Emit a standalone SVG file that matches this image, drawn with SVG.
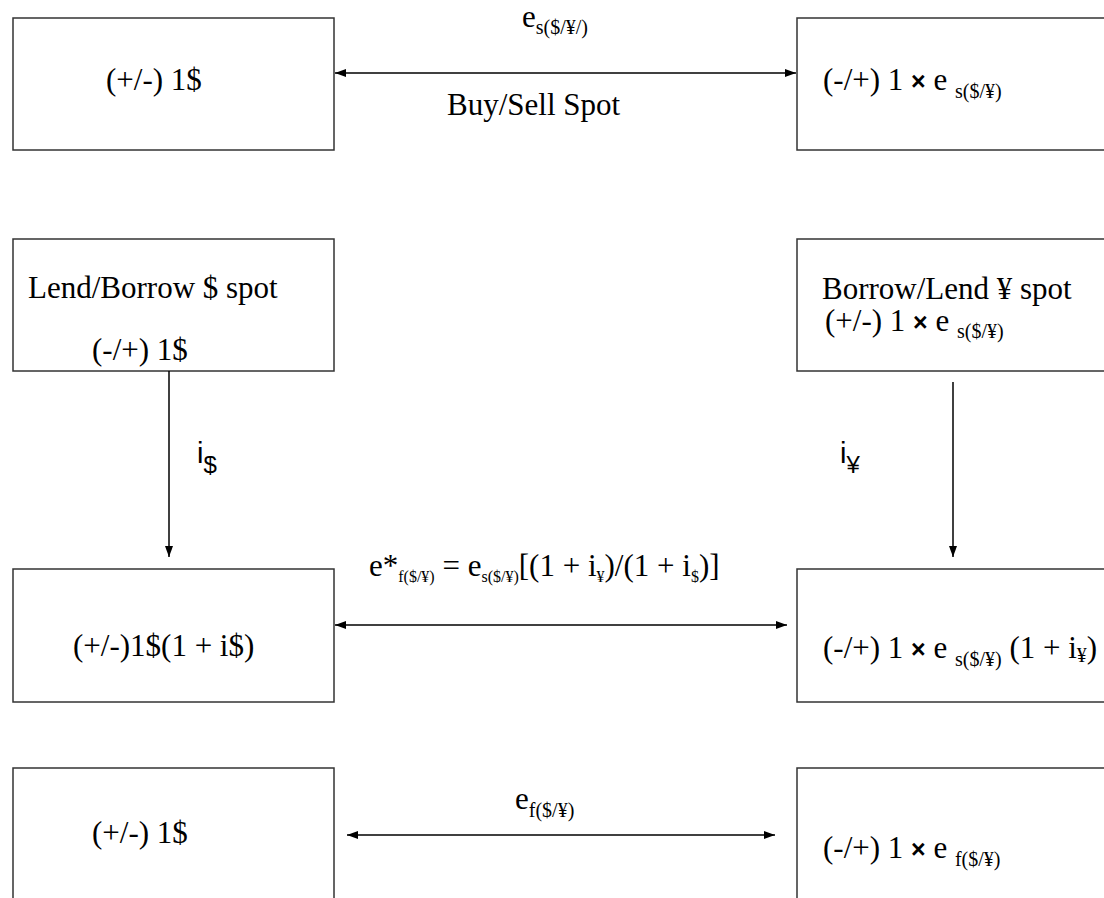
<svg xmlns="http://www.w3.org/2000/svg" width="1104" height="898" viewBox="0 0 1104 898">
<style>
.box{fill:#fff;stroke:#333;stroke-width:1.5}
.t{font-family:"Liberation Serif","Times New Roman",serif;font-size:31px;fill:#000}
.sub{font-size:20px}
.sm{font-size:16px}
.x{font-family:"Liberation Sans",Arial,sans-serif;font-weight:bold;font-size:25px}
.s{font-family:"Liberation Sans",Arial,sans-serif;font-size:29px;fill:#000}
.c{stroke:#000;stroke-width:1.5;fill:none}
</style>
<defs>
<marker id="ah" viewBox="0 0 11 8" refX="11" refY="4" markerWidth="11" markerHeight="8" markerUnits="userSpaceOnUse" orient="auto-start-reverse">
<path d="M0,0 L11,4 L0,8 z" fill="#000"/>
</marker>
</defs>
<rect width="1104" height="898" fill="#fff"/>
<g id="n1"><rect class="box" x="13" y="18" width="321" height="132"/>
<text class="t" x="106" y="90">(+/-) 1$</text></g>
<g id="n2"><rect class="box" x="797" y="18" width="320" height="132"/>
<text class="t" x="823" y="90">(-/+) 1 <tspan class="x">×</tspan> e <tspan class="sub" dy="8">s($/¥)</tspan></text></g>
<g id="n3"><rect class="box" x="13" y="239" width="321" height="132"/>
<text class="t" x="28" y="298">Lend/Borrow $ spot</text>
<text class="t" x="92" y="360">(-/+) 1$</text></g>
<g id="n4"><rect class="box" x="797" y="239" width="320" height="132"/>
<text class="t" x="822" y="299">Borrow/Lend ¥ spot</text>
<text class="t" x="825" y="331">(+/-) 1 <tspan class="x">×</tspan> e <tspan class="sub" dy="7">s($/¥)</tspan></text></g>
<g id="n5"><rect class="box" x="13" y="569" width="321" height="133"/>
<text class="t" x="73" y="656">(+/-)1$(1 + i$)</text></g>
<g id="n6"><rect class="box" x="797" y="569" width="320" height="133"/>
<text class="t" x="823" y="658">(-/+) 1 <tspan class="x">×</tspan> e <tspan class="sub" dy="8">s($/¥)</tspan><tspan dy="-8"> (1 + i</tspan><tspan class="sub" dy="4">¥</tspan><tspan dy="-4">)</tspan></text></g>
<g id="n7"><rect class="box" x="13" y="768" width="321" height="140"/>
<text class="t" x="92" y="843">(+/-) 1$</text></g>
<g id="n8"><rect class="box" x="797" y="768" width="320" height="140"/>
<text class="t" x="823" y="858">(-/+) 1 <tspan class="x">×</tspan> e <tspan class="sub" dy="8">f($/¥)</tspan></text></g>
<g id="connectors">
<line class="c" x1="335" y1="73" x2="796" y2="73" marker-start="url(#ah)" marker-end="url(#ah)"/>
<line class="c" x1="169" y1="371" x2="169" y2="557" marker-end="url(#ah)"/>
<line class="c" x1="953" y1="382" x2="953" y2="557" marker-end="url(#ah)"/>
<line class="c" x1="335" y1="625" x2="787" y2="625" marker-start="url(#ah)" marker-end="url(#ah)"/>
<line class="c" x1="347" y1="835" x2="775" y2="835" marker-start="url(#ah)" marker-end="url(#ah)"/>
</g>
<g id="labels">
<text class="t" x="522" y="27">e<tspan class="sub" dy="7">s($/¥/)</tspan></text>
<text class="t" x="447" y="115">Buy/Sell Spot</text>
<text class="s" x="197" y="463">i<tspan font-size="24" dy="10">$</tspan></text>
<text class="s" x="840" y="463">i<tspan font-size="24" dy="10">¥</tspan></text>
<text class="t" x="369" y="576">e*<tspan class="sm" dy="6">f($/¥)</tspan><tspan dy="-6"> = e</tspan><tspan class="sm" dy="6">s($/¥)</tspan><tspan dy="-6">[(1 + i</tspan><tspan class="sm" dy="6">¥</tspan><tspan dy="-6">)/(1 + i</tspan><tspan class="sm" dy="6">$</tspan><tspan dy="-6">)]</tspan></text>
<text class="t" x="515" y="809">e<tspan class="sub" dy="8">f($/¥)</tspan></text>
</g>
</svg>
